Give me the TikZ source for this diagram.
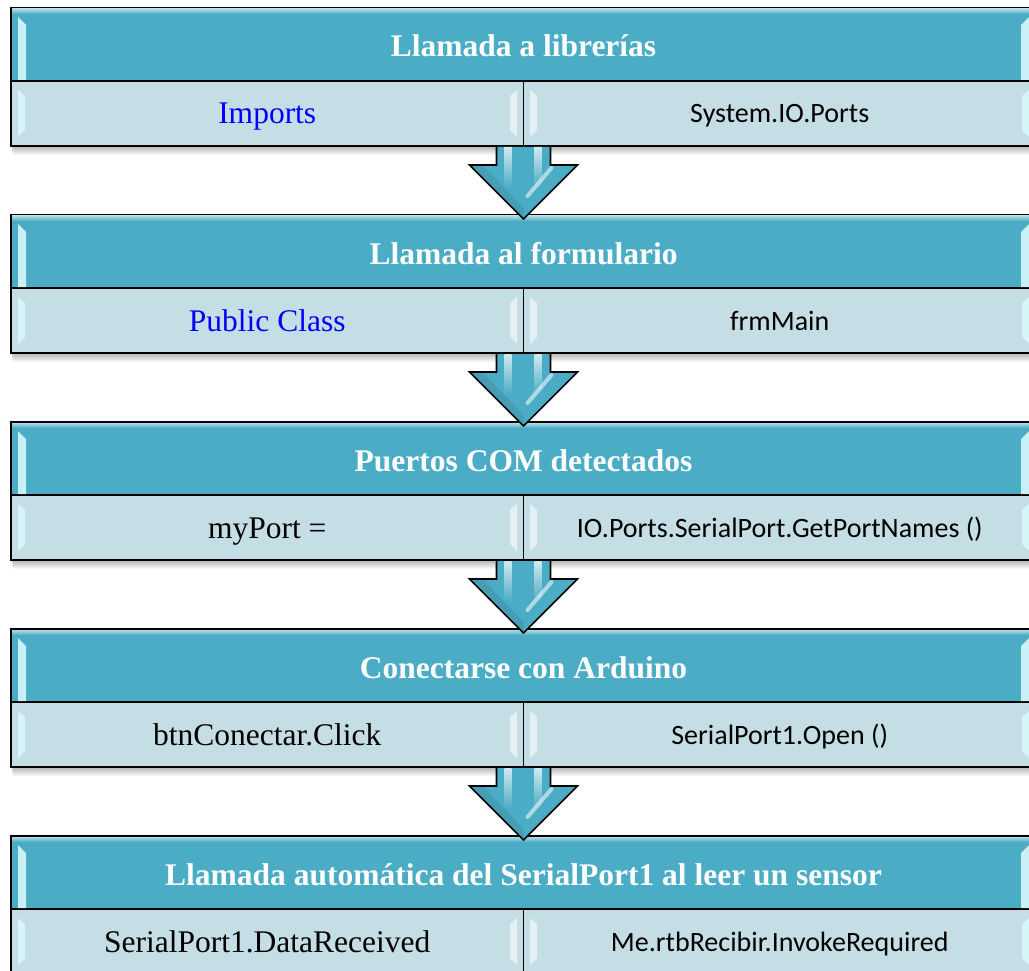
\documentclass[tikz,border=0pt]{standalone}
\usepackage{fontspec}
\setmainfont{Liberation Serif}
\newfontfamily\carlito{Carlito}
\usetikzlibrary{calc}
\definecolor{hdrc}{RGB}{75,172,198}
\definecolor{rowc}{RGB}{197,222,230}
\definecolor{glint}{RGB}{215,248,252}
\definecolor{linkblue}{RGB}{0,0,255}
\tikzset{
  box/.style={draw=black, line width=1.8pt, inner sep=0pt, outer sep=0pt, anchor=north west},
  hdr/.style={box, fill=hdrc, minimum width=1025pt, minimum height=73pt,
    text height=25pt, text depth=0pt, text=white, font=\fontsize{31.5}{36}\selectfont\bfseries},
  lcell/.style={box, fill=rowc, minimum width=512.5pt, minimum height=65pt,
    text height=21pt, text depth=0pt, font=\fontsize{31.5}{36}\selectfont},
  rcell/.style={box, fill=rowc, minimum width=512.5pt, minimum height=65pt,
    text height=19pt, text depth=0pt, font=\carlito\fontsize{28}{32}\selectfont},
  arrowline/.style={draw=black, line width=1.6pt, line join=miter},
  glossL/.style={fill=glint, opacity=0.9},
  glossS/.style={fill=white, opacity=0.55},
  shadowlayer/.style={fill=black, opacity=0.035},
}
\newcommand\myblock[6]{%
  \foreach \s in {1,...,9} \fill[shadowlayer] (11+0.2*\s,#2+0.5*\s) rectangle (1036,#2+138+\s);
  \node[hdr] (h#1) at (11,#2) {#3};
  \node[lcell, text=#4] (l#1) at (11,#2+73) {#5};
  \node[rcell] (r#1) at (523.5,#2+73) {#6};
  \begin{scope}[shift={(h#1.north west)}]
    \shade[top color=hdrc!45!white, bottom color=hdrc] (1,1) rectangle (1024,6);
    \fill[glossL] (7,9) -- (15,17) -- (15,72) -- (7,72) -- cycle;
    \fill[glossL] (1018,9) -- (1010,17) -- (1010,72) -- (1018,72) -- cycle;
    \fill[glossL] (7,82) -- (14,88) -- (14,122) -- (7,129) -- cycle;
    \fill[glossS] (506,82) -- (499,88) -- (499,122) -- (506,129) -- cycle;
    \fill[glossS] (519,82) -- (526,88) -- (526,122) -- (519,129) -- cycle;
    \fill[glossL] (1018,82) -- (1011,88) -- (1011,122) -- (1018,129) -- cycle;
  \end{scope}
}
\newcommand\myarrow[2]{%
  \fill[hdrc] ([xshift=-27pt,yshift=-1pt]l#1.south east) -- ++(0,18) -- ++(-27,0)
    -- ([yshift=-4pt]h#2.north) -- ++(54,-54) -- ++(-27,0)
    -- ([xshift=27pt,yshift=-1pt]l#1.south east) -- cycle;
  \begin{scope}[shift={(l#1.south east)}]
    \begin{scope}
      \clip (-27,1) -- (-27,19) -- (-54,19) -- (0,73) -- (54,19) -- (27,19) -- (27,1) -- cycle;
      \shade[top color=white, bottom color=hdrc, opacity=0.75] (-19,1) rectangle (-12,42);
      \shade[top color=white, bottom color=hdrc, opacity=0.75] (11,1) rectangle (18,42);
      \draw[white, opacity=0.55, line width=4pt, line cap=round] (28,22) -- (4,50);
      \fill[black, opacity=0.08] (-54,19) -- (0,73) -- (0,62) -- (-40,20) -- cycle;
    \end{scope}
  \end{scope}
  \draw[arrowline] ([xshift=-27pt,yshift=-1pt]l#1.south east) -- ++(0,18) -- ++(-27,0)
    -- ([yshift=-4pt]h#2.north) -- ++(54,-54) -- ++(-27,0)
    -- ([xshift=27pt,yshift=-1pt]l#1.south east);
}
\begin{document}
\begin{tikzpicture}[x=1pt,y=-1pt]
  \useasboundingbox (0,0) rectangle (1029,971);
  \fill[white] (0,0) rectangle (1029,971);
  \myblock{1}{8}{Llamada a librerías}{linkblue}{Imports}{System.IO.Ports}
  \myblock{2}{215}{Llamada al formulario}{linkblue}{Public Class}{frmMain}
  \myblock{3}{422}{Puertos COM detectados}{black}{myPort =}{IO.Ports.SerialPort.GetPortNames ()}
  \myblock{4}{629}{Conectarse con Arduino}{black}{btnConectar.Click}{SerialPort1.Open ()}
  \myblock{5}{836}{Llamada automática del SerialPort1 al leer un sensor}{black}{SerialPort1.DataReceived}{Me.rtbRecibir.InvokeRequired}
  \myarrow{1}{2}
  \myarrow{2}{3}
  \myarrow{3}{4}
  \myarrow{4}{5}
\end{tikzpicture}
\end{document}
